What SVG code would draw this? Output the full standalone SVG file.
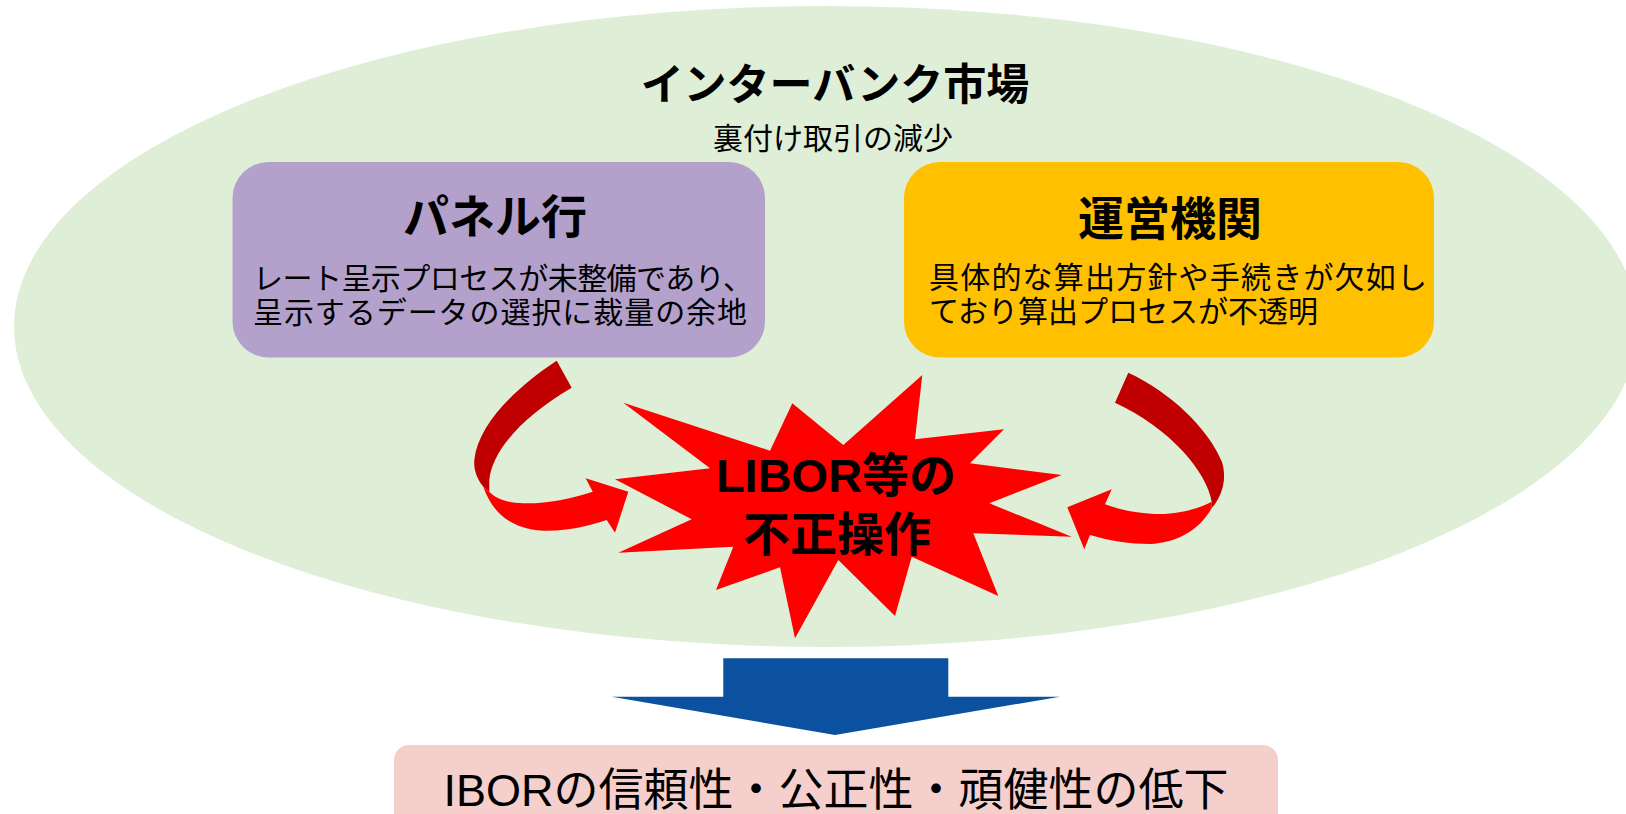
<svg xmlns="http://www.w3.org/2000/svg" width="1626" height="814" viewBox="0 0 1626 814">
  <style>
    .jp { font-family: "Liberation Sans", "Noto Sans CJK JP", sans-serif; fill: #000; }
    .title { font-size: 46px; font-weight: bold; text-anchor: middle; }
    .body { font-size: 30px; }
    .dark { fill: #C00000; }
    .bright { fill: #FF0000; }
  </style>
  <rect width="1626" height="814" fill="#FFFFFF"/>

  <g id="market">
    <ellipse cx="826" cy="326.5" rx="812" ry="320.5" fill="#DFEFD7"/>
    <text class="jp" x="835" y="100" font-size="43" font-weight="bold" text-anchor="middle">インターバンク市場</text>
    <text class="jp" x="833" y="149" font-size="30" text-anchor="middle">裏付け取引の減少</text>
  </g>

  <g id="panel">
    <rect x="232.5" y="162" width="532.5" height="195.5" rx="36" fill="#B3A0CB"/>
    <text class="jp title" x="495" y="233">パネル行</text>
    <text class="jp body" x="253" y="289" textLength="500">レート呈示プロセスが未整備であり、</text>
    <text class="jp body" x="253" y="323" textLength="494">呈示するデータの選択に裁量の余地</text>
  </g>

  <g id="admin">
    <rect x="904" y="162" width="530" height="195.5" rx="36" fill="#FFC000"/>
    <text class="jp title" x="1170" y="235">運営機関</text>
    <text class="jp body" x="929" y="288" textLength="498">具体的な算出方針や手続きが欠如し</text>
    <text class="jp body" x="929" y="322">ており算出プロセスが不透明</text>
  </g>

  <g id="connectors">
    <g id="arrow-left">
      <path class="dark" d="M 556.7,360.7 C 515,388 478,425 474.3,460 C 473.5,470 477,479 483.3,486.7 L 489.3,491.7 L 489.3,480 C 492,452 520,418 571.7,387.7 Z"/>
      <path class="bright" d="M 483.3,486.7 C 492,512 510,528 540,530.5 C 565,532 588,526 606.7,520 L 615,532.7 L 628.3,491.7 L 585.7,478.3 L 592.7,491.7 C 570,499 545,504 523.3,503.3 C 508,503 496,499 489.3,491.7 Z"/>
    </g>
    <g id="arrow-right">
      <path class="dark" d="M 1128.3,372.7 C 1170,392 1208,428 1222,462 C 1227,478 1223,495 1211.7,508.3 L 1211.7,501.7 C 1207,472 1170,428 1115,402.7 Z"/>
      <path class="bright" d="M 1211.7,501.7 C 1200,508 1180,514 1160,514 C 1140,514 1120,510 1105,504.3 L 1111.7,489.3 L 1067.3,507.3 L 1084.3,549.3 L 1090,535 C 1110,541 1130,544 1150,544 C 1175,543 1198,532 1211.7,508.3 Z"/>
    </g>
    <polygon id="arrow-down" fill="#0B51A0" points="723.3,658.3 948.3,658.3 948.3,696.7 1060,696.7 835,735 611.7,696.7 723.3,696.7"/>
  </g>

  <g id="libor">
    <polygon fill="#FF0000" points="623.3,402.7 770,450.7 792.3,403.3 843.3,445 922.3,375 915,439.3 1004,429.3 970,463.3 1061.7,475 989.3,503.3 1071.7,536.7 973.3,533.3 998.3,596 911.7,556.7 895,616 838.3,560 795,638.3 780,567.3 716,590 733.3,546.7 618.3,552.7 691.7,519.3 615,479.3 710,468.3"/>
    <text class="jp" x="836" y="492" font-size="47" font-weight="bold" text-anchor="middle">LIBOR等の</text>
    <text class="jp" x="837" y="551" font-size="47" font-weight="bold" text-anchor="middle">不正操作</text>
  </g>

  <g id="result">
    <rect x="394" y="745" width="884" height="95" rx="15" fill="#F4CFCC"/>
    <text class="jp" x="836" y="806" font-size="45" text-anchor="middle">IBORの信頼性・公正性・頑健性の低下</text>
  </g>
</svg>
